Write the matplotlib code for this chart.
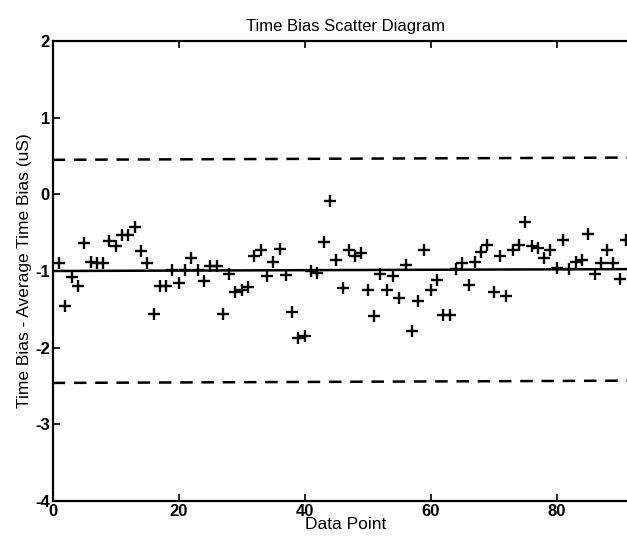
import matplotlib
matplotlib.use("Agg")
import matplotlib.pyplot as plt
import numpy as np

plt.rcParams['font.family'] = ['Liberation Sans', 'DejaVu Sans']
plt.rcParams['axes.unicode_minus'] = False

title = "Time Bias Scatter Diagram"
xlabel = "Data Point"
ylabel = "Time Bias - Average Time Bias (uS)"

data_x = list(range(1, 92))
data_y = [-0.90, -1.45, -1.08, -1.20, -0.64, -0.88, -0.90, -0.90, -0.61, -0.67,
          -0.53, -0.53, -0.42, -0.74, -0.90, -1.56, -1.20, -1.19, -0.99, -1.15,
          -0.99, -0.83, -0.99, -1.13, -0.93, -0.94, -1.56, -1.04, -1.27, -1.25,
          -1.21, -0.81, -0.73, -1.07, -0.88, -0.71, -1.05, -1.54, -1.87, -1.85,
          -1.00, -1.03, -0.62, -0.09, -0.86, -1.22, -0.73, -0.81, -0.77, -1.25,
          -1.59, -1.04, -1.25, -1.06, -1.35, -0.92, -1.78, -1.39, -0.73, -1.25,
          -1.12, -1.57, -1.57, -0.98, -0.89, -1.18, -0.88, -0.75, -0.66, -1.27,
          -0.81, -1.33, -0.73, -0.66, -0.36, -0.68, -0.70, -0.83, -0.73, -0.96,
          -0.60, -0.98, -0.88, -0.86, -0.52, -1.04, -0.89, -0.73, -0.90, -1.10,
          -0.60]

line_x = [0, 93]
mean_line = [-1.00, -0.975]
upper_line = [0.45, 0.48]
lower_line = [-2.46, -2.43]

xticks = [0, 20, 40, 60, 80]
yticks = [-4, -3, -2, -1, 0, 1, 2]

W, H = 627, 540
fig = plt.figure(figsize=(W / 100, H / 100), dpi=100)
left_px, top_px, bottom_px = 52.7, 41, 501
px_per_unit = 6.3
xmax = 93
right_px = left_px + xmax * px_per_unit
ax = fig.add_axes([left_px / W, 1 - bottom_px / H,
                   (right_px - left_px) / W, (bottom_px - top_px) / H])

ax.plot(line_x, mean_line, color='black', lw=1.8)
ax.plot(line_x, upper_line, color='black', lw=1.8, ls=(0, (5, 3.5)))
ax.plot(line_x, lower_line, color='black', lw=1.8, ls=(0, (5, 3.5)))
ax.plot(data_x, data_y, ls='none', marker='+', color='black',
        markersize=8, markeredgewidth=1.7)

ax.set_xlim(0, xmax)
ax.set_ylim(-4, 2)
ax.set_xticks(xticks)
ax.set_yticks(yticks)
ax.tick_params(direction='in', length=5, width=1.2, top=True, right=False,
               labelsize=12, pad=2)
for lab in ax.get_xticklabels() + ax.get_yticklabels():
    lab.set_fontweight('bold')
for s in ax.spines.values():
    s.set_linewidth(1.6)

ax.set_title(title, fontsize=12, pad=7)
ax.set_xlabel(xlabel, fontsize=12.5, labelpad=-1)
ax.set_ylabel(ylabel, fontsize=12.5, labelpad=2)

fig.savefig("out.png", dpi=100)
